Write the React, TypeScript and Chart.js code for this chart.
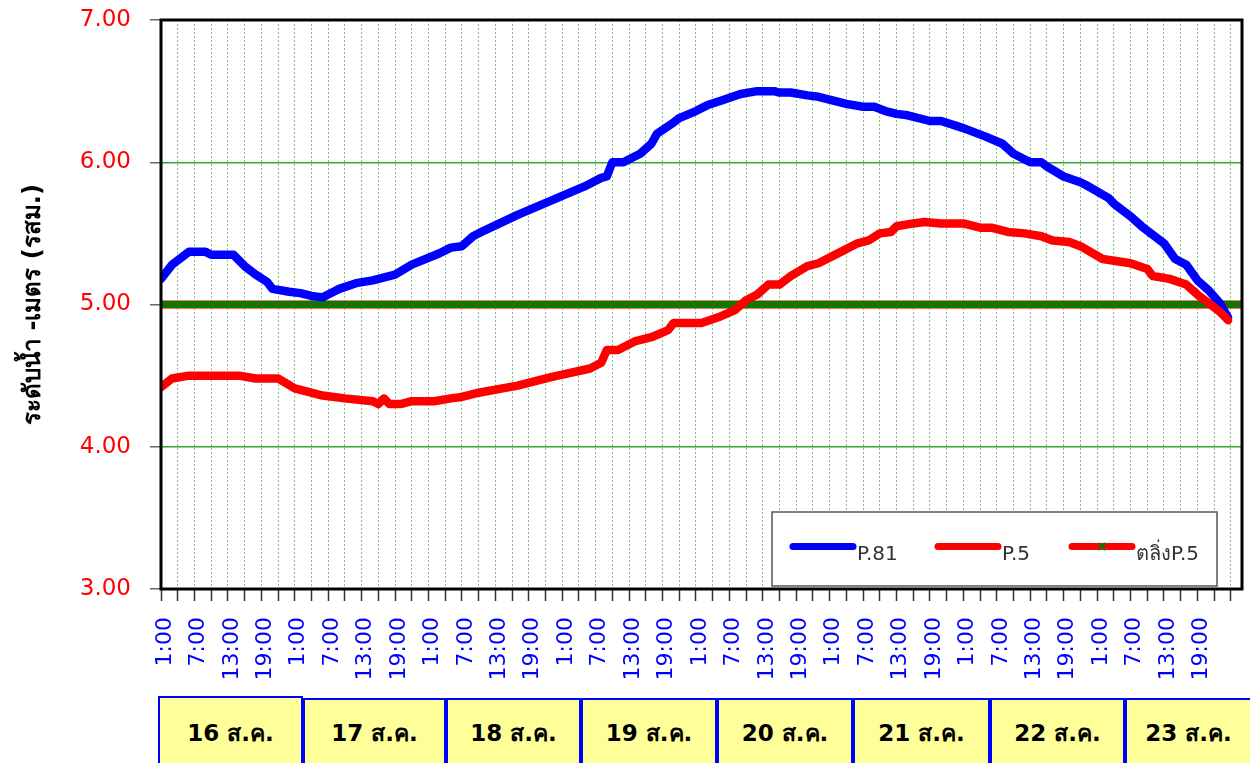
import React, { useEffect, useRef } from 'react';
import { Chart, registerables } from 'chart.js';

Chart.register(...registerables);

// ---- data ----
const dayLabels = ['16 ส.ค.', '17 ส.ค.', '18 ส.ค.', '19 ส.ค.', '20 ส.ค.', '21 ส.ค.', '22 ส.ค.', '23 ส.ค.'];
// labels for one day of 3-hour ticks (hours after 1:00)
const dayTickLabels = ['1:00', '', '7:00', '', '13:00', '', '19:00', ''];
const yTicks = [3, 4, 5, 6, 7];

// hours counted from 16 Aug 1:00
const p81Hours = [0, 2, 5, 8, 9, 13, 15, 17, 19, 20, 23, 25, 27, 29, 30, 32, 35, 38, 42, 45, 50, 52, 54, 56, 58, 64, 70, 76, 79, 80, 81, 83, 85, 86, 88, 89, 92, 93, 96, 98, 101, 104, 107, 110, 111, 113, 116, 118, 123, 126, 128, 130, 132, 134, 138, 140, 144, 148, 151, 153, 156, 158, 159, 162, 165, 166, 170, 171, 174, 176, 180, 182, 184, 186, 188, 190, 191.5];
const p81Levels = [5.18, 5.28, 5.37, 5.37, 5.35, 5.35, 5.27, 5.21, 5.16, 5.11, 5.09, 5.08, 5.06, 5.05, 5.07, 5.11, 5.15, 5.17, 5.21, 5.28, 5.36, 5.40, 5.41, 5.48, 5.52, 5.63, 5.73, 5.83, 5.89, 5.90, 6.00, 6.00, 6.04, 6.06, 6.13, 6.20, 6.28, 6.31, 6.36, 6.40, 6.44, 6.48, 6.50, 6.50, 6.49, 6.49, 6.47, 6.46, 6.41, 6.39, 6.39, 6.36, 6.34, 6.33, 6.29, 6.29, 6.24, 6.18, 6.13, 6.06, 6.00, 6.00, 5.97, 5.90, 5.86, 5.84, 5.75, 5.71, 5.62, 5.55, 5.43, 5.32, 5.28, 5.17, 5.10, 5.01, 4.91];

const p5Hours = [0, 2, 5, 14, 17, 21, 24, 29, 33, 38, 39, 40, 41, 43, 45, 49, 52, 54, 57, 64, 70, 77, 79, 80, 82, 85, 88, 91, 92, 97, 100, 103, 105, 107, 109, 111, 113, 116, 118, 122, 125, 127, 129, 131, 132, 135, 137, 140, 144, 147, 149, 152, 155, 158, 160, 163, 165, 169, 174, 177, 178, 181, 184, 186, 188, 190, 191.5];
const p5Levels = [4.42, 4.48, 4.50, 4.50, 4.48, 4.48, 4.41, 4.36, 4.34, 4.32, 4.30, 4.34, 4.30, 4.30, 4.32, 4.32, 4.34, 4.35, 4.38, 4.43, 4.49, 4.55, 4.59, 4.68, 4.68, 4.74, 4.77, 4.82, 4.87, 4.87, 4.91, 4.96, 5.03, 5.07, 5.14, 5.14, 5.20, 5.27, 5.29, 5.37, 5.43, 5.45, 5.50, 5.51, 5.55, 5.57, 5.58, 5.57, 5.57, 5.54, 5.54, 5.51, 5.50, 5.48, 5.45, 5.44, 5.41, 5.32, 5.29, 5.25, 5.20, 5.18, 5.14, 5.07, 5.01, 4.95, 4.89];

const bankHours = [0, 194];
const bankLevels = [5.0, 5.0];

const seriesNames = ['P.81', 'P.5', 'ตลิ่งP.5'];
const yTitle = 'ระดับน้ำ -เมตร (รสม.)';

const FONT = '"DejaVu Sans", "Noto Sans", sans-serif';

const toPoints = (xs: number[], ys: number[]) => xs.map((x, i) => ({ x, y: ys[i] }));

const tickHours: number[] = [];
for (let d = 0; d < dayLabels.length; d++) {
  for (let k = 0; k < dayTickLabels.length; k++) tickHours.push(d * 24 + k * 3);
}
tickHours.push(dayLabels.length * 24);

const labelFor = (v: number) => {
  if (v >= dayLabels.length * 24) return '';
  return dayTickLabels[Math.round((v % 24) / 3)];
};

const framePlugin = {
  id: 'frame',
  afterDatasetsDraw(chart: any) {
    const { ctx, chartArea: a } = chart;
    ctx.save();
    ctx.strokeStyle = '#000';
    ctx.lineWidth = 3;
    ctx.strokeRect(a.left, a.top, a.right - a.left, a.bottom - a.top);
    ctx.restore();
  },
};

const legendPlugin = {
  id: 'customLegend',
  afterDraw(chart: any) {
    const { ctx } = chart;
    ctx.save();
    ctx.fillStyle = '#fff';
    ctx.fillRect(772, 512, 445, 74);
    ctx.strokeStyle = '#555';
    ctx.lineWidth = 1.5;
    ctx.strokeRect(772, 512, 445, 74);
    const items = [
      { x: 793, color: '#0000ff', text: seriesNames[0], marker: false },
      { x: 938, color: '#ff0000', text: seriesNames[1], marker: false },
      { x: 1072, color: '#ff0000', text: seriesNames[2], marker: true },
    ];
    ctx.lineCap = 'round';
    items.forEach((it) => {
      ctx.strokeStyle = it.color;
      ctx.lineWidth = 7;
      ctx.beginPath();
      ctx.moveTo(it.x, 546.5);
      ctx.lineTo(it.x + 60, 546.5);
      ctx.stroke();
      if (it.marker) {
        ctx.strokeStyle = '#008000';
        ctx.lineWidth = 2;
        ctx.lineCap = 'butt';
        const cx = it.x + 30, cy = 546.5, r = 3.5;
        ctx.beginPath();
        ctx.moveTo(cx - r, cy - r); ctx.lineTo(cx + r, cy + r);
        ctx.moveTo(cx + r, cy - r); ctx.lineTo(cx - r, cy + r);
        ctx.stroke();
        ctx.lineCap = 'round';
      }
      ctx.fillStyle = '#333';
      ctx.font = `20px ${FONT}`;
      ctx.textBaseline = 'alphabetic';
      ctx.textAlign = 'left';
      ctx.fillText(it.text, it.x + 64, 560);
    });
    ctx.restore();
  },
};

function ChartCanvas() {
  const ref = useRef<HTMLCanvasElement | null>(null);
  useEffect(() => {
    if (!ref.current) return;
    const chart = new Chart(ref.current, {
      type: 'line',
      data: {
        datasets: [
          {
            label: seriesNames[1],
            data: toPoints(p5Hours, p5Levels),
            borderColor: '#ff0000',
            borderWidth: 8.5,
            pointRadius: 0,
            tension: 0,
            borderCapStyle: 'round',
            borderJoinStyle: 'round',
          },
          {
            label: seriesNames[0],
            data: toPoints(p81Hours, p81Levels),
            borderColor: '#0000ff',
            borderWidth: 8.5,
            pointRadius: 0,
            tension: 0,
            borderCapStyle: 'round',
            borderJoinStyle: 'round',
          },
          {
            label: seriesNames[2] + ' dots',
            data: toPoints(bankHours, bankLevels),
            borderColor: '#ff0000',
            borderWidth: 1.5,
            borderDash: [1.5, 4.08],
            pointRadius: 0,
          },
          {
            label: seriesNames[2] + ' band',
            data: toPoints(bankHours, bankLevels),
            borderColor: '#008000',
            borderWidth: 7,
            pointRadius: 0,
          },
          {
            label: seriesNames[2],
            data: toPoints(bankHours, bankLevels),
            borderColor: '#ff4040',
            borderWidth: 8.5,
            pointRadius: 0,
          },
        ],
      },
      options: {
        animation: false,
        responsive: false,
        devicePixelRatio: 1,
        layout: { padding: { top: 20, right: 8, left: 0, bottom: 0 } },
        plugins: {
          legend: { display: false },
          tooltip: { enabled: false },
        },
        scales: {
          x: {
            type: 'linear',
            min: 0,
            max: 194,
            afterBuildTicks: (s: any) => {
              s.ticks = tickHours.map((v) => ({ value: v }));
            },
            afterFit: (s: any) => {
              s.height = 101;
              s.paddingLeft = 0;
              s.paddingRight = 0;
            },
            ticks: {
              autoSkip: false,
              maxRotation: 90,
              minRotation: 90,
              padding: 16,
              labelOffset: 4,
              color: '#0000ff',
              font: { size: 22, family: FONT },
              callback: (v: any) => labelFor(Number(v)),
            },
            grid: {
              color: 'rgba(30,150,30,0.55)',
              lineWidth: 1,
              tickLength: 12,
              tickColor: '#333',
              tickWidth: 1.5,
              tickBorderDash: [],
            },
            border: { display: false, dash: [2, 2] },
          },
          y: {
            min: 3,
            max: 7,
            afterBuildTicks: (s: any) => {
              s.ticks = yTicks.map((v) => ({ value: v }));
            },
            afterFit: (s: any) => {
              s.width = 161;
              s.paddingTop = 0;
              s.paddingBottom = 0;
            },
            ticks: {
              color: '#ff0000',
              padding: 19,
              font: { size: 23, family: FONT },
              callback: (v: any) => Number(v).toFixed(2),
            },
            grid: {
              color: 'rgb(50,165,50)',
              lineWidth: 1.5,
              tickLength: 11,
              tickColor: '#666',
              tickWidth: 1.5,
            },
            border: { display: false },
            title: {
              display: true,
              text: yTitle,
              color: '#000',
              font: { size: 24, weight: 'bold', family: FONT },
              padding: { top: 19, bottom: 0 },
            },
          },
        },
      },
      plugins: [framePlugin, legendPlugin],
    } as any);
    return () => chart.destroy();
  }, []);
  return <canvas ref={ref} width={1250} height={690} style={{ display: 'block', width: 1250, height: 690 }} />;
}

const boxLefts = [158, 303, 446, 581, 717, 853, 990, 1125, 1252];

export default function App() {
  return (
    <div style={{ position: 'absolute', top: 0, left: 0, width: 1250, height: 763, overflow: 'hidden', background: '#fff' }}>
      <ChartCanvas />
      {dayLabels.map((d, i) => (
        <div
          key={d}
          style={{
            position: 'absolute',
            left: boxLefts[i],
            top: i === 0 ? 696 : 698,
            width: boxLefts[i + 1] - boxLefts[i],
            height: 90,
            boxSizing: 'border-box',
            border: '2px solid #0000ff',
            background: '#ffff99',
            fontFamily: FONT,
            fontWeight: 'bold',
            fontSize: 23,
            color: '#000',
            textAlign: 'center',
            paddingTop: i === 0 ? 18 : 16,
            lineHeight: '34px',
          }}
        >
          {d}
        </div>
      ))}
    </div>
  );
}
